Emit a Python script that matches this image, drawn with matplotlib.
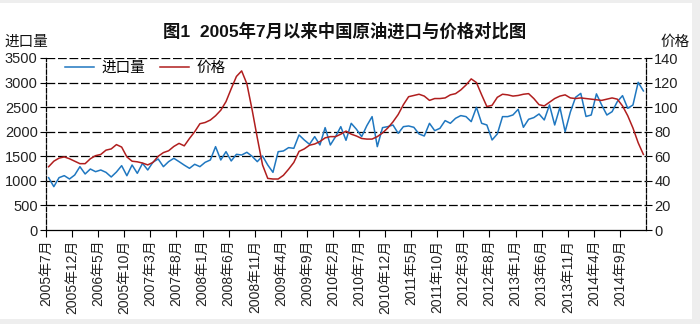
import matplotlib
matplotlib.use("Agg")
import matplotlib.pyplot as plt
from matplotlib.patches import Rectangle
from matplotlib.lines import Line2D

plt.rcParams['font.family'] = ['Liberation Sans', 'Noto Sans CJK SC']

# monthly data, 2005-07 .. 2015-01
imports = [1065, 882, 1065, 1106, 1038, 1119, 1289, 1140, 1241, 1187,
           1221, 1173, 1079, 1180, 1309, 1105, 1323, 1153, 1357, 1221,
           1380, 1445, 1289, 1391, 1459, 1391, 1320, 1255, 1337, 1289,
           1377, 1425, 1696, 1425, 1594, 1405, 1540, 1526, 1581, 1500,
           1391, 1506, 1323, 1173, 1594, 1608, 1676, 1662, 1934, 1832,
           1744, 1900, 1730, 2083, 1730, 1900, 2103, 1825, 2171, 2050,
           1900, 2124, 2307, 1696, 2083, 2103, 2137, 1968, 2103, 2117,
           2090, 1954, 1913, 2171, 2022, 2069, 2226, 2171, 2273, 2328,
           2307, 2205, 2497, 2171, 2137, 1832, 1954, 2307, 2307, 2341,
           2456, 2090, 2253, 2287, 2361, 2239, 2544, 2137, 2497, 2001,
           2400, 2700, 2780, 2310, 2340, 2770, 2545, 2340, 2408, 2612,
           2734, 2476, 2544, 3005, 2830]

prices = [51.5, 56, 58.5, 59.5, 58, 56, 54, 54, 58, 60.5,
          61.5, 65, 66, 69.5, 67.5, 59.5, 56, 55.5, 54.5, 53,
          55, 60, 63, 64.5, 68, 70.5, 68.5, 74.5, 80, 86.5,
          87.5, 89.5, 93, 97.5, 104.5, 115, 125, 129.5, 119, 98,
          75, 53, 42, 41.5, 41.5, 44.5, 49.5, 55, 64, 66,
          69, 70, 72, 75, 76, 76, 78, 80.5, 78, 76.5,
          74.5, 74, 74, 76, 79, 83, 88, 94, 102, 108.5,
          109.5, 110.5, 109, 105.5, 107, 107, 107.5, 110, 111, 114,
          118, 123, 120, 110, 100.5, 101.5, 108, 110.5, 110, 109,
          109.5, 110.5, 111, 107, 102, 101, 104, 107, 109, 110,
          107.5, 107, 107.5, 107, 106.5, 106, 105.5, 106.5, 107.5, 106.5,
          101, 93, 83, 71, 61.5]

tick_labels = ['2005年7月', '2005年12月', '2006年5月', '2005年10月', '2007年3月',
               '2007年8月', '2008年1月', '2008年6月', '2008年11月', '2009年4月',
               '2009年9月', '2010年2月', '2010年7月', '2010年12月', '2011年5月',
               '2011年10月', '2012年3月', '2012年8月', '2013年1月', '2013年6月',
               '2013年11月', '2014年4月', '2014年9月']

x = [i + 0.5 for i in range(len(imports))]

fig = plt.figure(figsize=(7, 3.24), dpi=100)
fig.patch.set_facecolor('#eeeeee')
fig.patches.append(Rectangle((0, 5 / 324), 692 / 700, 1 - 8 / 324,
                             transform=fig.transFigure, facecolor='white',
                             edgecolor='none', zorder=-10))

ax = fig.add_axes([46 / 700, 94 / 324, 600 / 700, 172 / 324])
ax.set_facecolor('none')
ax2 = ax.twinx()

blue = '#1f77c0'
red = '#b01e1e'

ax.plot(x, imports, color=blue, lw=1.1)
ax2.plot(x, prices, color=red, lw=1.1)

ax.set_xlim(0, 115)
ax.set_ylim(0, 3500)
ax2.set_ylim(0, 140)
ax.set_yticks(range(0, 3501, 500))
ax2.set_yticks(range(0, 141, 20))
ax.set_xticks(range(0, 111, 5))
ax.set_xticklabels(tick_labels, rotation=90, fontsize=10, color='#222')

for v in range(500, 3501, 500):
    ax.axhline(v, color='black', lw=0.9, ls=(0, (7, 2.2)), zorder=0.5)

for a in (ax, ax2):
    a.spines['top'].set_visible(False)
ax2.spines['bottom'].set_visible(False)
ax2.spines['left'].set_visible(False)
ax.spines['right'].set_visible(False)
ax.spines['left'].set_linestyle((0, (3.5, 1.5)))
ax.spines['left'].set_linewidth(0.9)
ax2.spines['right'].set_linestyle((0, (3.5, 1.5)))
ax2.spines['right'].set_linewidth(0.9)
ax.spines['bottom'].set_linewidth(0.9)

ax.tick_params(axis='y', direction='out', length=4, width=0.8,
               labelsize=10.5, labelcolor='#222', pad=2)
ax.tick_params(axis='x', direction='out', length=5, width=0.8, pad=2)
ax2.tick_params(axis='y', direction='out', length=4, width=0.8,
                labelsize=10.5, labelcolor='#222', pad=2)

handles = [Line2D([], [], color=blue, lw=1.1), Line2D([], [], color=red, lw=1.1)]
fig.legend(handles, ['进口量', '价格'], loc='center left',
           bbox_to_anchor=(52 / 700, 1 - 68 / 324), ncol=2, frameon=False,
           fontsize=10.5, handlelength=2.0, handletextpad=0.5, columnspacing=1.0)

fig.text(345 / 700, 1 - 31 / 324, '图1  2005年7月以来中国原油进口与价格对比图',
         ha='center', va='center', fontsize=12.5, fontweight='bold', color='#111')
fig.text(4 / 700, 1 - 42 / 324, '进口量', ha='left', va='center', fontsize=10.5, color='#111')
fig.text(690 / 700, 1 - 42 / 324, '价格', ha='right', va='center', fontsize=10.5, color='#111')

fig.savefig('out.png', dpi=100)
